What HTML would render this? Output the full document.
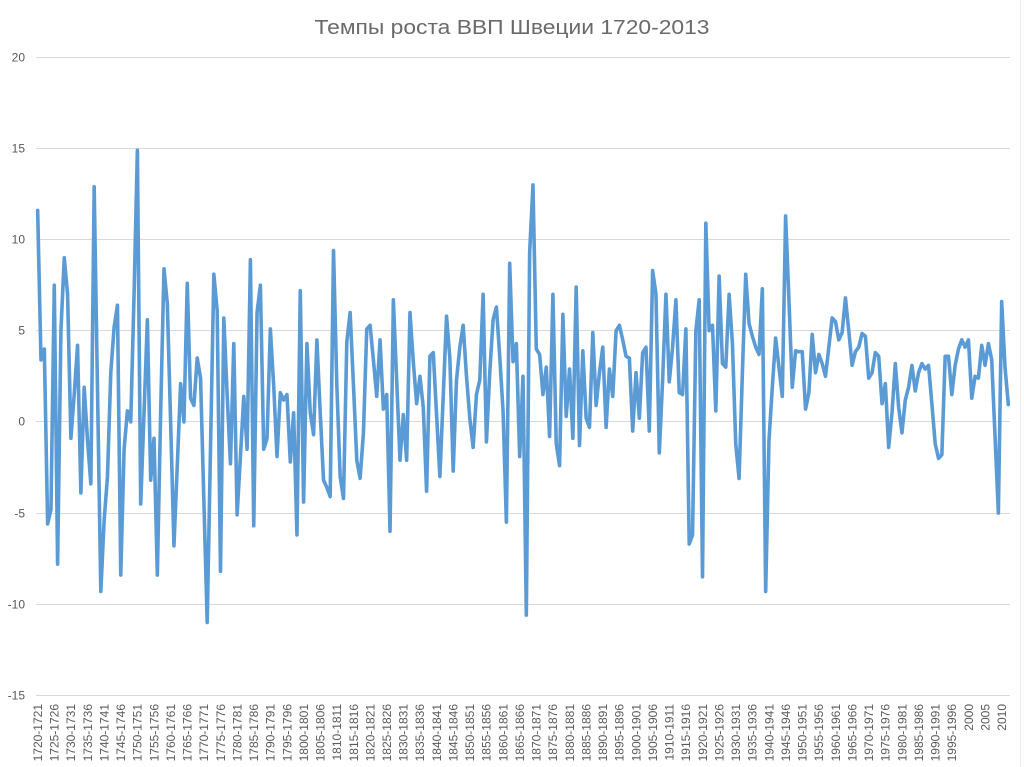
<!DOCTYPE html>
<html>
<head>
<meta charset="utf-8">
<style>
  html,body{margin:0;padding:0;background:#fff;}
  svg{display:block;}
  text{font-family:"Liberation Sans","DejaVu Sans",sans-serif;fill:#595959;}
</style>
</head>
<body>
<svg width="1024" height="767" viewBox="0 0 1024 767" xmlns="http://www.w3.org/2000/svg">
  <rect x="0" y="0" width="1024" height="767" fill="#ffffff"/>
  <line x1="1020.5" y1="0" x2="1020.5" y2="767" stroke="#ececec" stroke-width="1"/>

  <!-- Title -->
  <text x="512" y="34" text-anchor="middle" font-size="20" textLength="395" lengthAdjust="spacingAndGlyphs" style="fill:#6a6a6a">Темпы роста ВВП Швеции 1720-2013</text>

  <!-- Gridlines -->
  <g stroke="#d9d9d9" stroke-width="1">
    <line x1="36" y1="57.5" x2="1010" y2="57.5"/>
    <line x1="36" y1="148.5" x2="1010" y2="148.5"/>
    <line x1="36" y1="239.5" x2="1010" y2="239.5"/>
    <line x1="36" y1="330.5" x2="1010" y2="330.5"/>
    <line x1="36" y1="421.5" x2="1010" y2="421.5"/>
    <line x1="36" y1="513.5" x2="1010" y2="513.5"/>
    <line x1="36" y1="604.5" x2="1010" y2="604.5"/>
    <line x1="36" y1="695.5" x2="1010" y2="695.5"/>
  </g>

  <!-- Y labels -->
  <g font-size="12" text-anchor="end">
    <text x="25" y="61.5">20</text>
    <text x="25" y="152.5">15</text>
    <text x="25" y="243.5">10</text>
    <text x="25" y="334.5">5</text>
    <text x="25" y="425.5">0</text>
    <text x="25" y="517.5">-5</text>
    <text x="25" y="608.5">-10</text>
    <text x="25" y="699.5">-15</text>
  </g>

  <!-- Data series -->
  <polyline transform="translate(37.66,421.9) scale(3.32423,-18.23)" vector-effect="non-scaling-stroke" fill="none" stroke="#5b9bd5" stroke-width="3.6" stroke-linejoin="round" stroke-linecap="round"
    points="0,11.6 1,3.4 2,4.0 3,-5.6 4,-4.8 5,7.5 6,-7.8 7,5.0 8,9.0 9,7.0 10,-0.9 11,1.5 12,4.2 13,-3.9 14,1.9 15,-1.0 16,-3.4 17,12.9 18,1.8 19,-9.3 20,-5.4 21,-3.0 22,2.7 23,5.2 24,6.4 25,-8.4 26,-1.5 27,0.6 28,0.0 29,7.0 30,14.9 31,-4.5 32,0.5 33,5.6 34,-3.2 35,-0.9 36,-8.4 37,0.5 38,8.4 39,6.5 40,0.0 41,-6.8 42,-2.4 43,2.1 44,0.0 45,7.6 46,1.3 47,0.9 48,3.5 49,2.4 50,-4.3 51,-11.0 52,-1.4 53,8.1 54,6.1 55,-8.2 56,5.7 57,1.5 58,-2.3 59,4.3 60,-5.1 61,-1.9 62,1.4 63,-1.5 64,8.9 65,-5.7 66,6.0 67,7.5 68,-1.5 69,-0.9 70,5.1 71,2.0 72,-1.9 73,1.6 74,1.2 75,1.5 76,-2.2 77,0.5 78,-6.2 79,7.2 80,-4.4 81,4.3 82,0.5 83,-0.7 84,4.5 85,0.5 86,-3.2 87,-3.6 88,-4.1 89,9.4 90,2.0 91,-3.0 92,-4.2 93,4.4 94,6.0 95,2.0 96,-2.1 97,-3.1 98,-0.6 99,5.1 100,5.3 101,3.4 102,1.4 103,4.5 104,0.7 105,1.5 106,-6.0 107,6.7 108,2.3 109,-2.1 110,0.4 111,-2.1 112,6.0 113,3.3 114,1.0 115,2.5 116,0.8 117,-3.8 118,3.6 119,3.8 120,0.4 121,-3.0 122,1.4 123,5.8 124,3.5 125,-2.7 126,2.3 127,4.1 128,5.3 129,2.5 130,0.2 131,-1.4 132,1.5 133,2.3 134,7.0 135,-1.1 136,2.7 137,5.6 138,6.3 139,3.6 140,0.6 141,-5.5 142,8.7 143,3.3 144,4.3 145,-1.9 146,2.5 147,-10.6 148,9.3 149,13.0 150,4.0 151,3.7 152,1.5 153,3.0 154,-0.8 155,7.0 156,-1.2 157,-2.4 158,5.9 159,0.3 160,2.9 161,-0.9 162,7.4 163,-1.3 164,3.9 165,0.2 166,-0.3 167,4.9 168,0.9 169,2.7 170,4.1 171,-0.3 172,2.9 173,1.4 174,5.0 175,5.3 176,4.5 177,3.6 178,3.5 179,-0.5 180,2.7 181,0.2 182,3.8 183,4.1 184,-0.5 185,8.3 186,7.0 187,-1.7 188,2.3 189,7.0 190,2.2 191,4.1 192,6.7 193,1.6 194,1.5 195,5.1 196,-6.7 197,-6.2 198,5.0 199,6.7 200,-8.5 201,10.9 202,5.0 203,5.3 204,0.6 205,8.0 206,3.2 207,3.0 208,7.0 209,4.3 210,-1.2 211,-3.1 212,2.7 213,8.1 214,5.4 215,4.7 216,4.1 217,3.7 218,7.3 219,-9.3 220,-1.0 221,1.9 222,4.6 223,3.0 224,1.4 225,11.3 226,6.7 227,1.9 228,3.9 229,3.85 230,3.85 231,0.7 232,1.6 233,4.8 234,2.7 235,3.7 236,3.2 237,2.5 238,4.1 239,5.7 240,5.5 241,4.5 242,4.9 243,6.8 244,5.0 245,3.1 246,3.85 247,4.1 248,4.85 249,4.7 250,2.4 251,2.7 252,3.8 253,3.6 254,1.0 255,2.1 256,-1.4 257,0.5 258,3.2 259,0.8 260,-0.6 261,1.2 262,1.9 263,3.1 264,1.7 265,2.7 266,3.2 267,2.9 268,3.1 269,1.0 270,-1.2 271,-2.0 272,-1.8 273,3.6 274,3.6 275,1.5 276,3.1 277,4.0 278,4.5 279,4.1 280,4.5 281,1.3 282,2.5 283,2.4 284,4.2 285,3.1 286,4.3 287,3.4 288,-0.8 289,-5.0 290,6.6 291,3.0 292,0.95"/>

  <!-- X labels -->
  <g font-size="12" text-anchor="end">
    <text transform="translate(42.0,704) rotate(-90)">1720-1721</text>
    <text transform="translate(58.6,704) rotate(-90)">1725-1726</text>
    <text transform="translate(75.2,704) rotate(-90)">1730-1731</text>
    <text transform="translate(91.8,704) rotate(-90)">1735-1736</text>
    <text transform="translate(108.4,704) rotate(-90)">1740-1741</text>
    <text transform="translate(125.1,704) rotate(-90)">1745-1746</text>
    <text transform="translate(141.7,704) rotate(-90)">1750-1751</text>
    <text transform="translate(158.3,704) rotate(-90)">1755-1756</text>
    <text transform="translate(174.9,704) rotate(-90)">1760-1761</text>
    <text transform="translate(191.5,704) rotate(-90)">1765-1766</text>
    <text transform="translate(208.2,704) rotate(-90)">1770-1771</text>
    <text transform="translate(224.8,704) rotate(-90)">1775-1776</text>
    <text transform="translate(241.4,704) rotate(-90)">1780-1781</text>
    <text transform="translate(258.0,704) rotate(-90)">1785-1786</text>
    <text transform="translate(274.7,704) rotate(-90)">1790-1791</text>
    <text transform="translate(291.3,704) rotate(-90)">1795-1796</text>
    <text transform="translate(307.9,704) rotate(-90)">1800-1801</text>
    <text transform="translate(324.5,704) rotate(-90)">1805-1806</text>
    <text transform="translate(341.1,704) rotate(-90)">1810-1811</text>
    <text transform="translate(357.8,704) rotate(-90)">1815-1816</text>
    <text transform="translate(374.4,704) rotate(-90)">1820-1821</text>
    <text transform="translate(391.0,704) rotate(-90)">1825-1826</text>
    <text transform="translate(407.6,704) rotate(-90)">1830-1831</text>
    <text transform="translate(424.2,704) rotate(-90)">1835-1836</text>
    <text transform="translate(440.9,704) rotate(-90)">1840-1841</text>
    <text transform="translate(457.5,704) rotate(-90)">1845-1846</text>
    <text transform="translate(474.1,704) rotate(-90)">1850-1851</text>
    <text transform="translate(490.7,704) rotate(-90)">1855-1856</text>
    <text transform="translate(507.3,704) rotate(-90)">1860-1861</text>
    <text transform="translate(524.0,704) rotate(-90)">1865-1866</text>
    <text transform="translate(540.6,704) rotate(-90)">1870-1871</text>
    <text transform="translate(557.2,704) rotate(-90)">1875-1876</text>
    <text transform="translate(573.8,704) rotate(-90)">1880-1881</text>
    <text transform="translate(590.5,704) rotate(-90)">1885-1886</text>
    <text transform="translate(607.1,704) rotate(-90)">1890-1891</text>
    <text transform="translate(623.7,704) rotate(-90)">1895-1896</text>
    <text transform="translate(640.3,704) rotate(-90)">1900-1901</text>
    <text transform="translate(656.9,704) rotate(-90)">1905-1906</text>
    <text transform="translate(673.6,704) rotate(-90)">1910-1911</text>
    <text transform="translate(690.2,704) rotate(-90)">1915-1916</text>
    <text transform="translate(706.8,704) rotate(-90)">1920-1921</text>
    <text transform="translate(723.4,704) rotate(-90)">1925-1926</text>
    <text transform="translate(740.0,704) rotate(-90)">1930-1931</text>
    <text transform="translate(756.7,704) rotate(-90)">1935-1936</text>
    <text transform="translate(773.3,704) rotate(-90)">1940-1941</text>
    <text transform="translate(789.9,704) rotate(-90)">1945-1946</text>
    <text transform="translate(806.5,704) rotate(-90)">1950-1951</text>
    <text transform="translate(823.2,704) rotate(-90)">1955-1956</text>
    <text transform="translate(839.8,704) rotate(-90)">1960-1961</text>
    <text transform="translate(856.4,704) rotate(-90)">1965-1966</text>
    <text transform="translate(873.0,704) rotate(-90)">1970-1971</text>
    <text transform="translate(889.6,704) rotate(-90)">1975-1976</text>
    <text transform="translate(906.3,704) rotate(-90)">1980-1981</text>
    <text transform="translate(922.9,704) rotate(-90)">1985-1986</text>
    <text transform="translate(939.5,704) rotate(-90)">1990-1991</text>
    <text transform="translate(956.1,704) rotate(-90)">1995-1996</text>
    <text transform="translate(972.8,704) rotate(-90)">2000</text>
    <text transform="translate(989.4,704) rotate(-90)">2005</text>
    <text transform="translate(1006.0,704) rotate(-90)">2010</text>
  </g>
</svg>
</body>
</html>
